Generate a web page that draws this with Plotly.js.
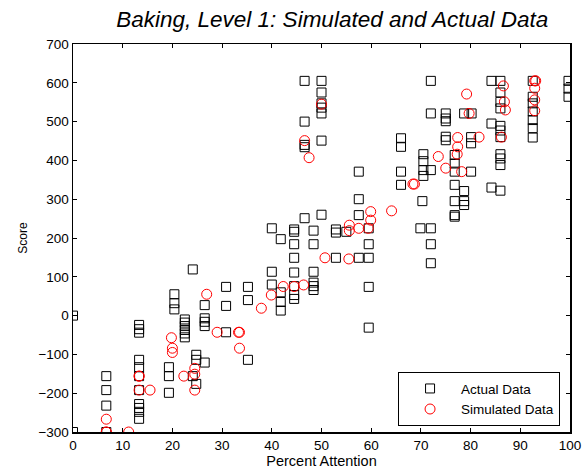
<!DOCTYPE html>
<html>
<head>
<meta charset="utf-8">
<script src="https://cdn.plot.ly/plotly-3.0.1.min.js"></script>
<style>
html,body{margin:0;padding:0;background:#fff;}
#chart{width:587px;height:472px;}
</style>
</head>
<body>
<div id="chart"></div>
<script>
// Actual data (squares)
var actualX = [
  0, 0,
  6.7, 6.7, 6.7, 6.7,
  13.3, 13.3, 13.3, 13.3, 13.3, 13.3, 13.3, 13.3, 13.3, 13.3, 13.3,
  20.4, 20.4, 20.4, 19.3, 19.3, 19.3,
  22.5, 22.5, 22.5, 22.5, 22.5, 22.5,
  24.1, 24.8, 24.8, 24.1, 24.8, 26.5,
  26.5, 26.5, 26.5, 26.5,
  30.8, 30.8, 30.8,
  35.2, 35.2, 35.2,
  40, 40, 40,
  41.8, 41.8, 41.8, 41.8,
  44.5, 44.5, 44.5, 44.5, 44.5, 44.5, 44.5, 44.5,
  46.6, 46.6, 46.6, 46.6, 46.6,
  48.4, 48.4, 48.4, 48.4, 48.4, 48.4,
  50, 50, 50, 50, 50, 50, 50,
  52.9, 52.9, 52.9,
  55,
  57.5, 57.5, 57.5, 57.5,
  59.5, 59.5, 59.5, 59.5, 59.5,
  66, 66, 66, 66,
  70.5, 70.5, 70.5, 70.5, 70.3, 69.9,
  72, 72, 72, 72, 72, 72,
  75, 75, 75, 75, 75,
  76.8, 76.8, 76.8, 76.8, 76.8, 76.8, 76.8,
  78.7, 78.7, 78.7, 78.7,
  80.2, 80.1, 80.1, 80.1,
  84.2, 84.2, 84.2,
  86, 86, 86, 86, 86, 86, 86, 86, 86, 86, 86,
  92.5, 92.5, 92.5, 92.5, 92.5, 92.5, 92.5,
  99.7, 99.7, 99.7
];
var actualY = [
  0, -300,
  -156, -192, -232, -300,
  -24, -35, -44, -114, -133, -156, -192, -228, -238, -248, -266,
  55, 32, 16, -133, -156, -199,
  -10, -18, -27, -37, -46, -56,
  119, -101, -114, -156, -176, -121,
  27, -7, -16, -27,
  74, 25, -43,
  74, 40, -114,
  225, 113, 80,
  197, 60, 35, 13,
  222, 216, 184, 149, 111, 76, 53, 43,
  605, 500, 440, 434, 251,
  219, 184, 113, 85, 76, 66,
  605, 575, 547, 536, 521, 451, 260,
  222, 214, 149,
  216,
  371, 300, 259, 149,
  225, 184, 149, 74, -31,
  457, 435, 371, 337,
  416, 398, 375, 360, 295, 225,
  605, 521, 375, 225, 184, 135,
  521, 508, 501, 461, 452,
  414, 392, 371, 337, 295, 259, 255,
  521, 321, 295, 285,
  521, 460, 444, 371,
  605, 495, 330,
  605, 575, 551, 534, 489, 477, 460, 416, 405, 388, 322,
  605, 564, 547, 526, 504, 483, 459,
  605, 585, 564
];
// Simulated data (circles)
var simX = [
  6.7, 6.7, 6.7,
  11.2,
  13.3, 13.3, 13.3, 15.5,
  19.8, 20, 20,
  22.3,
  24.5, 24.5, 24.5,
  26.9,
  29,
  33.3, 33.5, 33.5,
  37.9,
  39.9,
  42.3, 44.5, 46.4,
  46.6, 47.5,
  50,
  50.7,
  55.5,
  55.6, 55.6, 57.5, 59.4,
  59.9, 59.9,
  64.1,
  68.4, 68.7,
  73.5,
  75,
  77.4, 77.4, 77.3,
  78.2,
  79.2,
  79.7,
  81.7,
  86.2,
  86.6,
  86.8, 87,
  92.9, 93.1, 92.9, 92.9, 92.9
];
var simY = [
  -267, -300, -300,
  -300,
  -156, -156, -192, -192,
  -57, -84, -95,
  -156,
  -136, -151, -192,
  55,
  -43,
  -43, -43, -84,
  19,
  53,
  75, 75, 79,
  451, 407,
  545,
  149,
  146,
  233, 219, 225, 225,
  268, 246,
  270,
  339, 339,
  410,
  380,
  459, 435, 416,
  371,
  571,
  521,
  460,
  460,
  592,
  551, 530,
  605, 605, 586, 556, 528
];

var fontFam = 'Liberation Sans, Arial, Helvetica, sans-serif';

var traces = [
  {
    x: actualX, y: actualY, type: 'scatter', mode: 'markers', name: 'Actual Data',
    marker: {symbol: 'square-open', size: 9, color: '#000', line: {width: 1, color: '#000'}}
  },
  {
    x: simX, y: simY, type: 'scatter', mode: 'markers', name: 'Simulated Data',
    marker: {symbol: 'circle-open', size: 10, color: '#ff0000', line: {width: 1, color: '#ff0000'}}
  }
];

var axisCommon = {
  showline: true, linecolor: '#000', linewidth: 1.5, mirror: 'ticks',
  ticks: 'inside', ticklen: 4, tickwidth: 1, tickcolor: '#000',
  showgrid: false, zeroline: false,
  tickfont: {family: fontFam, size: 13.5, color: '#000'}
};

var layout = {
  width: 587, height: 472,
  margin: {l: 73, r: 17, t: 44, b: 40},
  paper_bgcolor: '#fff', plot_bgcolor: '#fff',
  showlegend: true,
  title: {
    text: 'Baking, Level 1: Simulated and Actual Data',
    font: {family: fontFam, size: 22.5, color: '#000', style: 'italic'},
    x: 0.566, xanchor: 'center', y: 0.96, yanchor: 'middle'
  },
  xaxis: Object.assign({}, axisCommon, {
    range: [0, 100], dtick: 10, tick0: 0,
    title: {text: 'Percent Attention', font: {family: fontFam, size: 14.5, color: '#000'}, standoff: 3}
  }),
  yaxis: Object.assign({}, axisCommon, {
    range: [-300, 700], dtick: 100, tick0: 0,
    title: {text: 'Score', font: {family: fontFam, size: 12, color: '#000'}, standoff: 8}
  }),
  legend: {
    x: 0.98, xanchor: 'right', y: 0.015, yanchor: 'bottom',
    bgcolor: '#fff', bordercolor: '#000', borderwidth: 1,
    font: {family: fontFam, size: 13.5, color: '#000'},
    itemwidth: 52
  }
};

Plotly.newPlot('chart', traces, layout, {displayModeBar: false, staticPlot: true});
</script>
</body>
</html>
